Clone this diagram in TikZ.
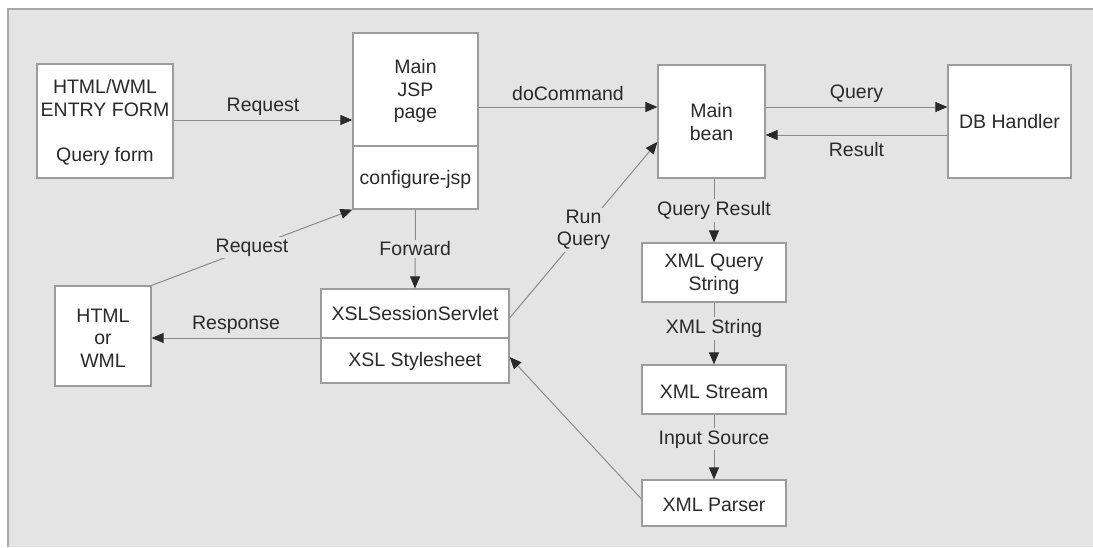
\documentclass[tikz,border=0pt]{standalone}
\usepackage{fontspec}
\setmainfont{Liberation Sans}
\usetikzlibrary{arrows.meta}
\definecolor{bg}{HTML}{E4E4E4}
\definecolor{frameline}{HTML}{A8A8A8}
\definecolor{edge}{HTML}{8A8A8A}
\definecolor{boxline}{HTML}{9C9C9C}
\definecolor{ink}{HTML}{2A2A2A}
\begin{document}
\begin{tikzpicture}[x=1pt,y=-1pt,
  box/.style={draw=boxline,fill=white,line width=1.2pt,inner sep=0pt},
  txt/.style={text=ink,font=\fontsize{19.5}{22.5}\selectfont,inner sep=0pt,align=center},
  lab/.style={txt,fill=bg,inner sep=2pt},
  conn/.style={draw=edge,line width=1pt,-{Triangle[length=12pt,width=10pt,color=ink]}},
  plain/.style={draw=edge,line width=1pt}]
\useasboundingbox (0,0) rectangle (1093,547);
\fill[bg] (7,8) rectangle (1093,547);
\draw[frameline,line width=1.5pt] (7.75,547) -- (7.75,8.75) -- (1093,8.75);

% boxes
\node[box,minimum width=136pt,minimum height=114pt] (entry) at (105,121) {};
\node[box,minimum width=125pt,minimum height=176pt] (jsp) at (415.5,121) {};
\node[box,minimum width=107pt,minimum height=113pt] (bean) at (711.5,121.5) {};
\node[box,minimum width=123pt,minimum height=113pt] (db) at (1009.5,121.5) {};
\node[box,minimum width=96pt,minimum height=100pt] (html) at (103,336) {};
\node[box,minimum width=188pt,minimum height=94pt] (xsl) at (415,336) {};
\node[box,minimum width=144pt,minimum height=59pt] (xmlq) at (714,272.5) {};
\node[box,minimum width=144pt,minimum height=49pt] (stream) at (714,389.5) {};
\node[box,minimum width=144pt,minimum height=46pt] (parser) at (714,503) {};

% dividers
\draw[boxline,line width=1.2pt] ([yshift=-25pt]jsp.west) -- ([yshift=-25pt]jsp.east);
\draw[boxline,line width=1.2pt] ([yshift=-2pt]xsl.west) -- ([yshift=-2pt]xsl.east);

% texts
\node[txt] (entryt) at (105,98) {HTML/WML\\ENTRY FORM};
\node[txt] (entryq) at (105,156) {Query form};
\node[txt] (jspt) at (415.5,91) {Main\\JSP\\page};
\node[txt] (jspc) at (415.5,179) {configure-jsp};
\node[txt] (beant) at (711.5,122) {Main\\bean};
\node[txt] (dbt) at (1009.5,122) {DB Handler};
\node[txt] (htmlt) at (103,338) {HTML\\or\\WML};
\node[txt] (xslt) at (415,314) {XSLSessionServlet};
\node[txt] (xsls) at (415,361) {XSL Stylesheet};
\node[txt] (xmlqt) at (714,274) {XML Query\\String};
\node[txt] (streamt) at (714,392) {XML Stream};
\node[txt] (parsert) at (714,505) {XML Parser};

% connectors
\draw[conn] ([yshift=1pt]entry.east) -- ([yshift=1pt]jsp.west)
  node[txt,midway,yshift=13pt] {Request};
\draw[conn] ([yshift=14pt]jsp.east) -- ([yshift=14.5pt]bean.west)
  node[txt,midway,yshift=13pt] {doCommand};
\draw[conn] ([yshift=14.5pt]bean.east) -- ([yshift=14.5pt]db.west)
  node[txt,midway,yshift=13pt] {Query};
\draw[conn] ([yshift=-13.5pt]db.west) -- ([yshift=-13.5pt]bean.east)
  node[txt,midway,yshift=-15pt] {Result};
\draw[conn] (bean.south -| xmlq.north) -- (xmlq.north)
  node[lab,midway] {Query Result};
\draw[conn] (xmlq.south) -- (stream.north)
  node[lab,pos=0.42] {XML String};
\draw[conn] (stream.south) -- (parser.north)
  node[lab,pos=0.38] {Input Source};
\draw[conn] (jsp.south) -- (xsl.north)
  node[lab,midway] {Forward};
\draw[conn] ([yshift=-2pt]xsl.west) -- ([yshift=-2pt]html.east)
  node[txt,midway,yshift=13pt] {Response};
\draw[conn] (html.north east) -- (jsp.south west)
  node[lab,midway] {Request};
\draw[conn] ([yshift=18pt]xsl.east) -- ([yshift=-20.5pt]bean.west)
  node[lab,midway] {Run\\Query};
\draw[conn] ([yshift=4pt]parser.west) -- ([yshift=-21pt]xsl.east);
\end{tikzpicture}
\end{document}
